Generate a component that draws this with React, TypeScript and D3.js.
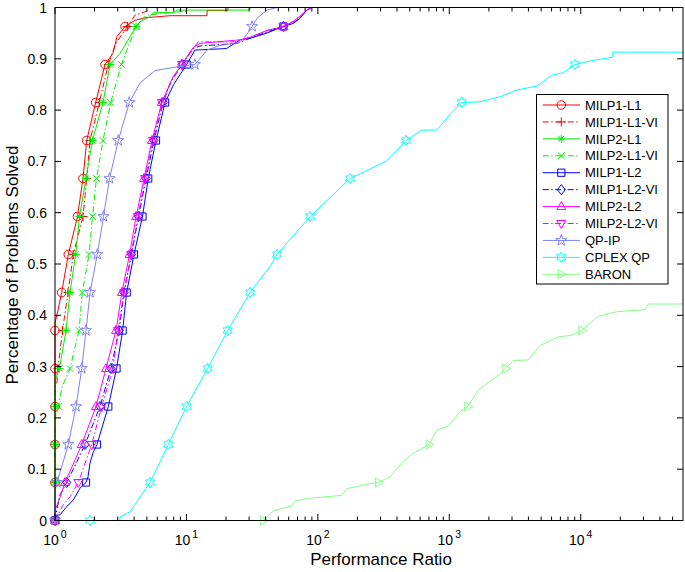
import React from 'react';
import * as d3 from 'd3';

type Pt = [number, number];

const X_TICKS = [1, 10, 100, 1000, 10000];
const X_TICK_EXPONENTS = ['0', '1', '2', '3', '4'];
const X_MAX = 60000;
const Y_TICKS = [0, 0.1, 0.2, 0.3, 0.4, 0.5, 0.6, 0.7, 0.8, 0.9, 1];
const Y_TICK_LABELS = ['0', '0.1', '0.2', '0.3', '0.4', '0.5', '0.6', '0.7', '0.8', '0.9', '1'];
const PROBLEM_COUNT = 135;
const MARKER_EVERY = 10;

const MILP1_L1: Pt[] = [[1,0],[1,0.385],[1.054,0.41],[1.124,0.4444],[1.262,0.5185],[1.483,0.5926],[1.633,0.6667],[1.743,0.7407],[2.04,0.8148],[2.402,0.8889],[2.763,0.911],[2.96,0.943],[3.41,0.963],[4.06,0.975],[4.84,0.98],[7.51,0.984],[14.35,0.984],[14.35,0.994],[20.7,0.994],[20.7,1]];
const MILP1_L1_VI: Pt[] = [[1,0],[1,0.26],[1.036,0.27],[1.054,0.2963],[1.14,0.3704],[1.256,0.4444],[1.378,0.5185],[1.633,0.5926],[1.743,0.6667],[1.847,0.7407],[2.174,0.8148],[2.544,0.8889],[2.9,0.93],[3.554,0.963],[4.06,0.985],[5.02,0.993],[5.02,1]];
const MILP2_L1: Pt[] = [[1,0],[1,0.27],[1.036,0.285],[1.082,0.2963],[1.213,0.3704],[1.3,0.4444],[1.437,0.5185],[1.536,0.5926],[1.722,0.6667],[1.928,0.7407],[2.319,0.8148],[2.622,0.8889],[3.12,0.91],[4.14,0.963],[4.44,0.972],[5.28,0.982],[5.6,0.99],[7.96,0.99],[8.5,0.995],[30.5,0.995],[30.5,1]];
const MILP2_L1_VI: Pt[] = [[1,0],[1,0.2],[1.03,0.21],[1.06,0.2222],[1.13,0.26],[1.3,0.2963],[1.524,0.3704],[1.613,0.4444],[1.815,0.5185],[1.928,0.5926],[2.069,0.6667],[2.319,0.7407],[2.654,0.8148],[3.2,0.8889],[4.14,0.963],[4.93,0.985],[10.1,0.993],[10.1,1]];
const MILP1_L2: Pt[] = [[1,0],[1,0.01],[1.092,0.011],[1.228,0.027],[1.378,0.04],[1.549,0.063],[1.722,0.0741],[1.783,0.085],[1.847,0.112],[1.946,0.132],[2.087,0.1481],[2.544,0.2222],[2.938,0.2963],[3.27,0.3704],[3.51,0.4444],[3.99,0.5185],[4.63,0.5926],[5.12,0.6667],[5.87,0.7407],[6.88,0.8148],[8.0,0.85],[10.05,0.8889],[11.6,0.917],[20.2,0.92],[25.6,0.937],[30.5,0.94],[40.8,0.95],[54.6,0.963],[65,0.969],[73.2,0.979],[82.3,0.995],[89.8,1]];
const MILP1_L2_VI: Pt[] = [[1,0],[1.03,0.02],[1.092,0.05],[1.228,0.0741],[1.378,0.1],[1.692,0.1481],[2.2,0.2222],[2.667,0.2963],[3.07,0.3704],[3.35,0.4444],[3.82,0.5185],[4.32,0.5926],[4.93,0.6667],[5.66,0.7407],[6.64,0.8148],[7.6,0.855],[9.27,0.8889],[11.24,0.92],[12.7,0.925],[24.1,0.93],[30.5,0.94],[40.8,0.952],[54.6,0.963],[65,0.97],[73.2,0.98],[82.3,0.995],[89.8,1]];
const MILP2_L2: Pt[] = [[1,0],[1,0.02],[1.092,0.045],[1.191,0.0741],[1.378,0.11],[1.597,0.1481],[2.051,0.2222],[2.443,0.2963],[2.911,0.3704],[3.23,0.4444],[3.69,0.5185],[4.14,0.5926],[4.76,0.6667],[5.47,0.7407],[6.49,0.8148],[7.91,0.865],[9.22,0.8889],[11.24,0.922],[12.7,0.93],[25.6,0.937],[30.5,0.942],[40.8,0.955],[54.6,0.963],[65,0.973],[73.2,0.983],[82.3,0.995],[89.8,1]];
const MILP2_L2_VI: Pt[] = [[1,0],[1.15,0.03],[1.3,0.046],[1.504,0.0741],[1.902,0.1481],[2.266,0.2222],[2.763,0.2963],[3.017,0.3704],[3.35,0.4444],[3.79,0.5185],[4.28,0.5926],[4.84,0.6667],[5.57,0.7407],[6.52,0.8148],[7.8,0.86],[9.27,0.8889],[12.26,0.933],[24.1,0.933],[30.5,0.942],[40.8,0.955],[54.6,0.963],[65,0.972],[73.2,0.982],[82.3,0.995],[89.8,1]];
const QP_IP: Pt[] = [[1,0],[1,0.06],[1.036,0.0741],[1.262,0.1481],[1.445,0.2222],[1.597,0.2963],[1.722,0.3704],[1.847,0.4444],[2.098,0.5185],[2.339,0.5926],[2.599,0.6667],[3.031,0.7407],[3.677,0.8148],[4.44,0.853],[5.77,0.877],[7.91,0.883],[11.6,0.8889],[14.35,0.917],[18.0,0.926],[25.6,0.932],[28.9,0.948],[31.6,0.963],[34.5,0.979],[41.0,0.995],[48.9,1]];
const CPLEX_QP: Pt[] = [[1.847,0],[3.12,0],[3.12,0.007],[3.72,0.017],[4.44,0.046],[5.28,0.0741],[7.28,0.1481],[10.05,0.2222],[14.5,0.2963],[20.6,0.3704],[30.5,0.4444],[43.2,0.495],[48.9,0.5185],[87.4,0.5926],[176,0.6667],[334,0.701],[469,0.7407],[618,0.761],[803,0.761],[1014,0.792],[1245,0.8148],[1715,0.816],[2436,0.826],[3266,0.839],[4634,0.847],[6026,0.868],[7386,0.873],[9057,0.8889],[12500,0.897],[17540,0.903],[17540,0.913],[60000,0.913]];
const BARON: Pt[] = [[38.5,0],[40.8,0.006],[45.8,0.019],[63.3,0.028],[67.0,0.038],[82.3,0.043],[152,0.049],[166,0.062],[250,0.072],[289,0.0741],[354,0.085],[387,0.097],[448,0.115],[533,0.131],[702,0.1481],[803,0.176],[984,0.184],[1208,0.212],[1382,0.2222],[1665,0.254],[2297,0.281],[2692,0.2963],[3076,0.312],[3999,0.313],[4911,0.341],[6763,0.358],[8548,0.361],[10190,0.3704],[13640,0.398],[18820,0.407],[30900,0.411],[32750,0.422],[60000,0.422]];

const SERIES_NAMES = ['MILP1-L1', 'MILP1-L1-VI', 'MILP2-L1', 'MILP2-L1-VI', 'MILP1-L2', 'MILP1-L2-VI', 'MILP2-L2', 'MILP2-L2-VI', 'QP-IP', 'CPLEX QP', 'BARON'];
const SERIES_DATA = [MILP1_L1, MILP1_L1_VI, MILP2_L1, MILP2_L1_VI, MILP1_L2, MILP1_L2_VI, MILP2_L2, MILP2_L2_VI, QP_IP, CPLEX_QP, BARON];
const SERIES_COLORS = ['#ff0000', '#ff0000', '#00ee00', '#00ee00', '#0000ff', '#0000ff', '#ff00ff', '#ff00ff', '#8080ff', '#00ffff', '#80ff80'];
const SERIES_DASHED = [false, true, false, true, false, true, false, true, false, false, false];
const SERIES_MARKERS = ['circle', 'plus', 'asterisk', 'x', 'square', 'diamond', 'triangle', 'triangleDown', 'pentagram', 'hexagram', 'triangleRight'];

const W = 685, H = 572;
const X0 = 55, X1 = 683, Y0 = 7.5, Y1 = 520.5;

function starPath(n: number, ro: number, ri: number): string {
  const pts: string[] = [];
  for (let i = 0; i < 2 * n; i++) {
    const a = -Math.PI / 2 + (i * Math.PI) / n;
    const r = i % 2 === 0 ? ro : ri;
    pts.push(`${(r * Math.cos(a)).toFixed(2)},${(r * Math.sin(a)).toFixed(2)}`);
  }
  return 'M' + pts.join('L') + 'Z';
}

const MARKER_PATHS: Record<string, string> = {
  plus: 'M-4.5,0H4.5M0,-4.5V4.5',
  asterisk: 'M-4,0H4M0,-4V4M-2.9,-2.9L2.9,2.9M-2.9,2.9L2.9,-2.9',
  x: 'M-3.3,-3.3L3.3,3.3M-3.3,3.3L3.3,-3.3',
  square: 'M-3.6,-3.6H3.6V3.6H-3.6Z',
  diamond: 'M0,-5L4,0L0,5L-4,0Z',
  triangle: 'M0,-5L4.5,3L-4.5,3Z',
  triangleDown: 'M0,5L4.5,-3L-4.5,-3Z',
  triangleRight: 'M5,0L-3,-4.5L-3,4.5Z',
  pentagram: starPath(5, 5.8, 2.3),
  hexagram: starPath(6, 5.2, 3.0),
};

function Marker({ kind, x, y, color }: { kind: string; x: number; y: number; color: string }) {
  if (kind === 'circle') return <circle cx={x} cy={y} r={4.3} fill="none" stroke={color} strokeWidth={1} />;
  return <path d={MARKER_PATHS[kind]} transform={`translate(${x},${y})`} fill="none" stroke={color} strokeWidth={1} />;
}

export default function App() {
  const x = d3.scaleLog().domain([1, X_MAX]).range([X0, X1]);
  const y = d3.scaleLinear().domain([0, 1]).range([Y1, Y0]);
  const line = d3.line<Pt>().x((d) => x(d[0])).y((d) => y(d[1]));

  const step = MARKER_EVERY / PROBLEM_COUNT;
  const markerPoints = (data: Pt[]): [number, number][] => {
    const out: [number, number][] = [];
    for (let k = 0; k * step <= 1 + 1e-9; k++) {
      const target = k * step;
      const i = data.findIndex((d) => d[1] >= target - 0.001);
      if (i < 0) break;
      if (i === 0 || Math.abs(data[i][1] - target) < 0.001) {
        out.push([x(data[i][0]), y(target)]);
      } else {
        const [r0, f0] = data[i - 1];
        const [r1, f1] = data[i];
        const t = (target - f0) / (f1 - f0);
        out.push([x(r0) + (x(r1) - x(r0)) * t, y(target)]);
      }
    }
    return out;
  };

  const minorTicks: number[] = [];
  for (let e = 0; e <= 4; e++) {
    for (let m = 2; m <= 9; m++) {
      const v = m * Math.pow(10, e);
      if (v < X_MAX) minorTicks.push(v);
    }
  }

  const font = 'Liberation Sans, Arial, Helvetica, sans-serif';
  const dash = '6,2.5,1.5,2.5';

  const legendX = 536.5, legendY = 94.5, legendW = 131.5, legendH = 189.5;
  const rowY0 = 105, rowGap = 16.93;

  return (
    <svg width={W} height={H} style={{ position: 'absolute', left: 0, top: 0, background: '#fff' }} fontFamily={font}>
      <rect x={0} y={0} width={W} height={H} fill="#fff" />
      <defs>
        <clipPath id="plotClip">
          <rect x={X0 - 6} y={Y0 - 6} width={X1 - X0 + 12} height={Y1 - Y0 + 12} />
        </clipPath>
      </defs>
      <g clipPath="url(#plotClip)">
        {SERIES_DATA.map((data, si) => (
          <g key={si}>
            <path d={line(data) || ''} fill="none" stroke={SERIES_COLORS[si]} strokeWidth={1}
              strokeDasharray={SERIES_DASHED[si] ? dash : undefined} />
            {markerPoints(data).map((p, j) => (
              <Marker key={j} kind={SERIES_MARKERS[si]} x={p[0]} y={p[1]} color={SERIES_COLORS[si]} />
            ))}
          </g>
        ))}
      </g>
      {/* axes box */}
      <rect x={X0} y={Y0} width={X1 - X0} height={Y1 - Y0} fill="none" stroke="#000" strokeWidth={1} />
      {/* y ticks */}
      {Y_TICKS.map((t, i) => (
        <g key={'y' + i}>
          <line x1={X0} x2={X0 + 6} y1={y(t)} y2={y(t)} stroke="#000" />
          <line x1={X1} x2={X1 - 6} y1={y(t)} y2={y(t)} stroke="#000" />
          <text x={47} y={y(t) + 5} textAnchor="end" fontSize={14} fill="#000">{Y_TICK_LABELS[i]}</text>
        </g>
      ))}
      {/* x ticks */}
      {X_TICKS.map((t, i) => (
        <g key={'x' + i}>
          <line x1={x(t)} x2={x(t)} y1={Y1} y2={Y1 - 6.5} stroke="#000" />
          <line x1={x(t)} x2={x(t)} y1={Y0} y2={Y0 + 6.5} stroke="#000" />
          <text x={x(t)} y={545} textAnchor="middle" fontSize={14} fill="#000">
            10<tspan dx={2} dy={-7} fontSize={10.5}>{X_TICK_EXPONENTS[i]}</tspan>
          </text>
        </g>
      ))}
      {minorTicks.map((t, i) => (
        <g key={'m' + i}>
          <line x1={x(t)} x2={x(t)} y1={Y1} y2={Y1 - 4} stroke="#000" />
          <line x1={x(t)} x2={x(t)} y1={Y0} y2={Y0 + 4} stroke="#000" />
        </g>
      ))}
      {/* axis titles */}
      <text x={381} y={565} textAnchor="middle" fontSize={17} fill="#000">Performance Ratio</text>
      <text transform="translate(18,265) rotate(-90)" textAnchor="middle" fontSize={17} fill="#000">Percentage of Problems Solved</text>
      {/* legend */}
      <rect x={legendX} y={legendY} width={legendW} height={legendH} fill="#fff" stroke="#000" strokeWidth={1} />
      {SERIES_NAMES.map((name, si) => {
        const ry = rowY0 + rowGap * si;
        return (
          <g key={'l' + si}>
            <line x1={542.7} x2={580} y1={ry} y2={ry} stroke={SERIES_COLORS[si]} strokeWidth={1}
              strokeDasharray={SERIES_DASHED[si] ? dash : undefined} />
            <Marker kind={SERIES_MARKERS[si]} x={561.3} y={ry} color={SERIES_COLORS[si]} />
            <text x={585} y={ry + 4.7} fontSize={13} fill="#000">{name}</text>
          </g>
        );
      })}
    </svg>
  );
}
